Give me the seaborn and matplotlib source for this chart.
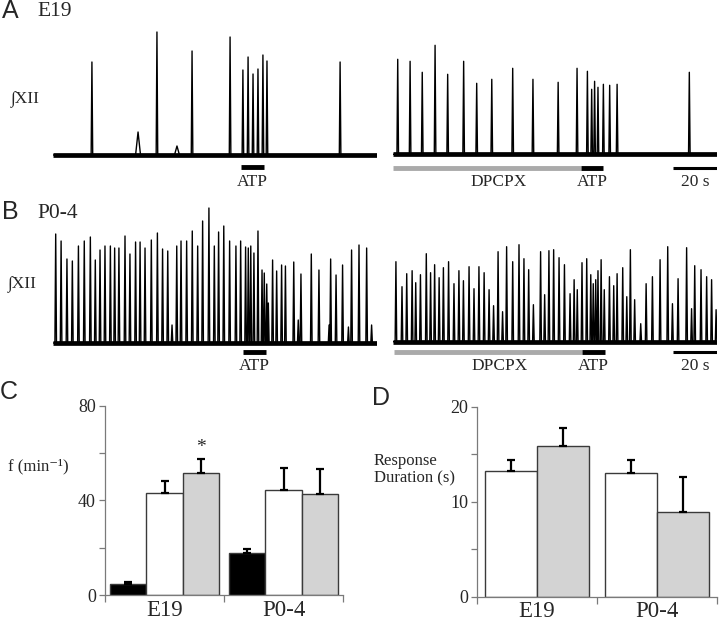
import numpy as np
import pandas as pd
import matplotlib
matplotlib.use("Agg")
import matplotlib.pyplot as plt
import seaborn as sns

sns.set_theme(style="white")
plt.rcParams['font.family'] = ['Liberation Serif', 'DejaVu Serif']

SERIF = ["Liberation Serif", "DejaVu Serif"]

# ---------------- data: traces (time s, amplitude a.u.) ----------------
TRACE_LEN = 144.0
a_left_t = [17.3, 46.2, 61.8, 78.7, 84.4, 86.7, 88.9, 91.1, 93.3, 95.1, 127.6]
a_left_a = [93, 123, 104, 118, 85, 98, 81, 86, 100, 94, 93]
a_left_bump_t = [37.8, 55.1]
a_left_bump_a = [23, 9]
a_left_atp = [83.6, 93.8]

a_right_t = [2.1, 7.6, 13.0, 18.7, 24.3, 31.4, 37.2, 43.9, 53.2, 62.2, 73.4,
             81.8, 86.4, 88.3, 89.6, 91.1, 93.5, 96.3, 99.6, 131.7]
a_right_a = [95, 93, 82, 109, 80, 93, 71, 75, 86, 75, 72,
             86, 83, 65, 73, 67, 70, 69, 70, 82]
a_right_dpcpx = [0.0, 83.5]
a_right_atp = [83.5, 93.3]

b_left_t = [1.2, 3.6, 6.2, 8.6, 11.3, 13.9, 16.6, 18.8, 20.9, 23.1, 25.5, 27.4,
            29.3, 32.0, 34.2, 36.7, 38.7, 40.9, 43.7, 46.4, 48.7, 51.0, 52.9,
            55.0, 56.9, 59.4, 61.9, 64.3, 66.5, 69.3, 71.7, 73.6, 75.9, 78.5,
            81.3, 83.4, 85.6, 86.8, 87.9, 89.3, 91.1, 92.9, 93.9, 95.0, 95.7,
            97.6, 99.4, 101.6, 103.3, 107.0, 109.0, 110.2, 114.8, 118.2, 122.7,
            123.4, 125.8, 128.7, 131.3, 132.7, 136.0, 139.4, 141.6]
b_left_a = [109, 102, 84, 82, 97, 102, 106, 83, 93, 97, 97, 95,
            95, 107, 89, 101, 101, 95, 103, 110, 94, 92, 18,
            97, 102, 102, 112, 97, 122, 135, 97, 111, 117, 102,
            97, 102, 96, 95, 97, 90, 112, 73, 70, 59, 40,
            83, 72, 78, 77, 81, 23, 69, 89, 73, 18,
            84, 68, 78, 16, 93, 98, 95, 18]
b_left_atp = [84.4, 94.7]

b_right_t = [1.3, 4.0, 6.1, 8.5, 10.1, 12.2, 14.8, 16.7, 18.5, 20.5, 22.4, 24.7,
             27.1, 29.3, 31.3, 33.8, 36.0, 38.2, 40.5, 42.7, 44.7, 46.7, 48.7,
             50.5, 53.2, 56.0, 58.2, 60.3, 62.4, 65.6, 67.4, 69.3, 71.4, 73.8,
             76.2, 78.7, 80.5, 81.9, 84.0, 86.1, 87.9, 89.0, 90.1, 91.1, 92.5,
             93.9, 96.2, 98.1, 99.6, 102.1, 103.9, 105.5, 107.4, 110.1, 112.5,
             115.3, 118.7, 122.1, 124.2, 126.7, 130.5, 132.7, 134.1, 136.9,
             139.4, 141.6, 143.6]
b_right_a = [80, 55, 68, 71, 59, 67, 88, 69, 77, 64, 74, 80,
             58, 71, 61, 75, 53, 75, 69, 52, 36, 90, 30,
             95, 80, 97, 83, 72, 37, 90, 47, 91, 92, 84,
             77, 48, 62, 52, 79, 83, 67, 58, 62, 71, 82,
             52, 65, 56, 68, 74, 45, 92, 42, 18, 58,
             65, 82, 95, 38, 63, 94, 33, 76, 72,
             65, 62, 32]
b_right_dpcpx = [0.4, 84.0]
b_right_atp = [84.0, 94.2]
scale_bar = [124.5, 144.0]   # 20 s

# ---------------- data: bar charts ----------------
groups = ["E19", "P0-4"]
c_conditions = ["control", "ATP", "DPCPX+ATP"]
c_values = {"E19": [4.5, 43.0, 51.7], "P0-4": [17.6, 44.4, 42.6]}
c_errors = {"E19": [1.0, 5.3, 5.8], "P0-4": [1.8, 9.1, 10.6]}
d_conditions = ["ATP", "DPCPX+ATP"]
d_values = {"E19": [13.2, 15.9], "P0-4": [13.05, 8.95]}
d_errors = {"E19": [1.2, 1.9], "P0-4": [1.3, 3.7]}

GRAY = "#d3d3d3"
LBL = 12.5
W, H = 720, 621
fig = plt.figure(figsize=(W / 100, H / 100), dpi=100)


def px_axes(left, top, right, bottom):
    return fig.add_axes([left / W, 1 - bottom / H, (right - left) / W, (bottom - top) / H])


def build_trace(ts, amps, width, bumps_t=(), bumps_a=(), bump_w=1.1):
    ev = [(t, a, width) for t, a in zip(ts, amps)]
    ev += [(t, a, bump_w) for t, a in zip(bumps_t, bumps_a)]
    ev.sort()
    xs, ys = [0.0], [0.0]
    for t, a, w in ev:
        xs += [t - w, t, t + w]
        ys += [0.0, a, 0.0]
    xs.append(TRACE_LEN)
    ys.append(0.0)
    return np.array(xs), np.array(ys)


def trace_panel(left, right, top, bottom, base_px, ts, amps, bumps_t=(), bumps_a=(),
                dpcpx=None, atp=None, bar_px=None, label_px=None, scale=False):
    ax = px_axes(left, top, right, bottom)
    ax.set_xlim(0, TRACE_LEN)
    ax.set_ylim(base_px - bottom, base_px - top)
    ax.axis("off")
    x, y = build_trace(ts, amps, 0.35, bumps_t, bumps_a)
    ax.plot([0, TRACE_LEN], [0, 0], color="black", lw=3.4, solid_capstyle="butt")
    ax.plot(x, y, color="black", lw=1.0)
    yb = base_px - bar_px
    yl = base_px - label_px
    if dpcpx is not None:
        ax.plot(dpcpx, [yb, yb], color="#aaaaaa", lw=3.5, solid_capstyle="butt")
        ax.text(sum(dpcpx) / 2 + 5, yl, "DPCPX", ha="center", va="center",
                fontsize=LBL, family=SERIF)
    if atp is not None:
        ax.plot(atp, [yb, yb], color="black", lw=3.5, solid_capstyle="butt")
        ax.text(sum(atp) / 2, yl, "ATP", ha="center", va="center", fontsize=LBL,
                family=SERIF)
    if scale:
        ax.plot(scale_bar, [yb, yb], color="black", lw=2.2, solid_capstyle="butt")
        ax.text(sum(scale_bar) / 2, yl, "20 s", ha="center", va="center",
                fontsize=LBL, family=SERIF)
    return ax


# Panel A
trace_panel(53, 377, 15, 192, 155, a_left_t, a_left_a, a_left_bump_t, a_left_bump_a,
            atp=a_left_atp, bar_px=167, label_px=182)
trace_panel(393, 717, 15, 192, 154.3, a_right_t, a_right_a,
            dpcpx=a_right_dpcpx, atp=a_right_atp, bar_px=168, label_px=182, scale=True)
# Panel B
trace_panel(53, 377, 195, 375, 343, b_left_t, b_left_a,
            atp=b_left_atp, bar_px=352, label_px=366)
trace_panel(393, 717, 195, 375, 341.7, b_right_t, b_right_a,
            dpcpx=b_right_dpcpx, atp=b_right_atp, bar_px=352, label_px=366, scale=True)

fig.text(2 / W, 1 - 11 / H, "A", fontsize=18, family=["Liberation Sans"], va="center")
fig.text(37 / W, 1 - 12 / H, "E19", fontsize=15.5, va="center", family=SERIF)
fig.text(2 / W, 1 - 212 / H, "B", fontsize=18, family=["Liberation Sans"], va="center")
fig.text(37 / W, 1 - 214 / H, "P0-4", fontsize=15.5, va="center", family=SERIF)
fig.text(11 / W, 1 - 99 / H, "\u222bXII", fontsize=12.5, va="center", family=SERIF)
fig.text(8 / W, 1 - 284 / H, "\u222bXII", fontsize=12.5, va="center", family=SERIF)


def bar_panel(left, top, right, bottom, conditions, values, errors, colors, ymax, yticks,
              ylabels, width):
    ax = px_axes(left, top, right, bottom)
    rows = []
    for g in groups:
        for c, v, e in zip(conditions, values[g], errors[g]):
            rows.append({"group": g, "cond": c, "value": v, "err": e})
    df = pd.DataFrame(rows)
    sns.barplot(data=df, x="group", y="value", hue="cond", order=groups,
                hue_order=conditions, palette=colors, width=width, gap=0,
                edgecolor="#3a3a3a", linewidth=1.0, errorbar=None, legend=False,
                saturation=1, ax=ax)
    patches = sorted([p for p in ax.patches if p.get_height() > 0],
                     key=lambda p: p.get_x())
    xs = [p.get_x() + p.get_width() / 2 for p in patches]
    ax.errorbar(xs, df["value"], yerr=[np.zeros(len(df)), df["err"]], fmt="none",
                ecolor="black", elinewidth=1.6, capsize=3.2, capthick=1.6, zorder=1)
    ax.set_ylim(0, ymax)
    ax.set_xlim(-0.5, 1.5)
    for s in ["top", "right"]:
        ax.spines[s].set_visible(False)
    for s in ["left", "bottom"]:
        ax.spines[s].set_color("#7a7a7a")
        ax.spines[s].set_linewidth(0.9)
    ax.set_yticks(yticks)
    ax.set_yticklabels(ylabels)
    ax.set_xticks([-0.5, 0.5, 1.5])
    ax.set_xticklabels([])
    ax.tick_params(axis="y", direction="out", length=4.5, width=0.9, color="#7a7a7a",
                   left=True, pad=2, labelsize=13, labelfontfamily="Liberation Serif")
    ax.tick_params(axis="x", direction="out", length=5, width=0.9,
                   color="#7a7a7a", bottom=True)
    xt = ax.get_xaxis_transform()
    for i, g in enumerate(groups):
        ax.text(i, -0.025, g, transform=xt, ha="center", va="top", fontsize=16.5,
                family=SERIF)
    ax.set_xlabel("")
    ax.set_ylabel("")
    return ax, xs, df


axC, xsC, dfC = bar_panel(105, 405.7, 343, 595, c_conditions, c_values, c_errors,
                          ["black", "white", GRAY], 80, [0, 20, 40, 60, 80],
                          ["0", "", "40", "", "80"], 0.92)
axC.text(xsC[2], 62.5, "*", ha="center", va="center", fontsize=14, family=SERIF)
fig.text(8 / W, 1 - 466 / H, "f (min\u207b\u00b9)", fontsize=12, va="center", family=SERIF)
fig.text(0 / W, 1 - 392 / H, "C", fontsize=18, family=["Liberation Sans"], va="center")

axD, xsD, dfD = bar_panel(477.3, 406.7, 716.7, 596.7, d_conditions, d_values, d_errors,
                          ["white", GRAY], 20, [0, 5, 10, 15, 20],
                          ["0", "", "10", "", "20"], 0.87)
fig.text(374 / W, 1 - 470 / H, "Response\nDuration (s)", fontsize=12, va="center",
         linespacing=1.1, family=SERIF)
fig.text(372 / W, 1 - 398 / H, "D", fontsize=18, family=["Liberation Sans"], va="center")

fig.savefig("out.png", dpi=100)
